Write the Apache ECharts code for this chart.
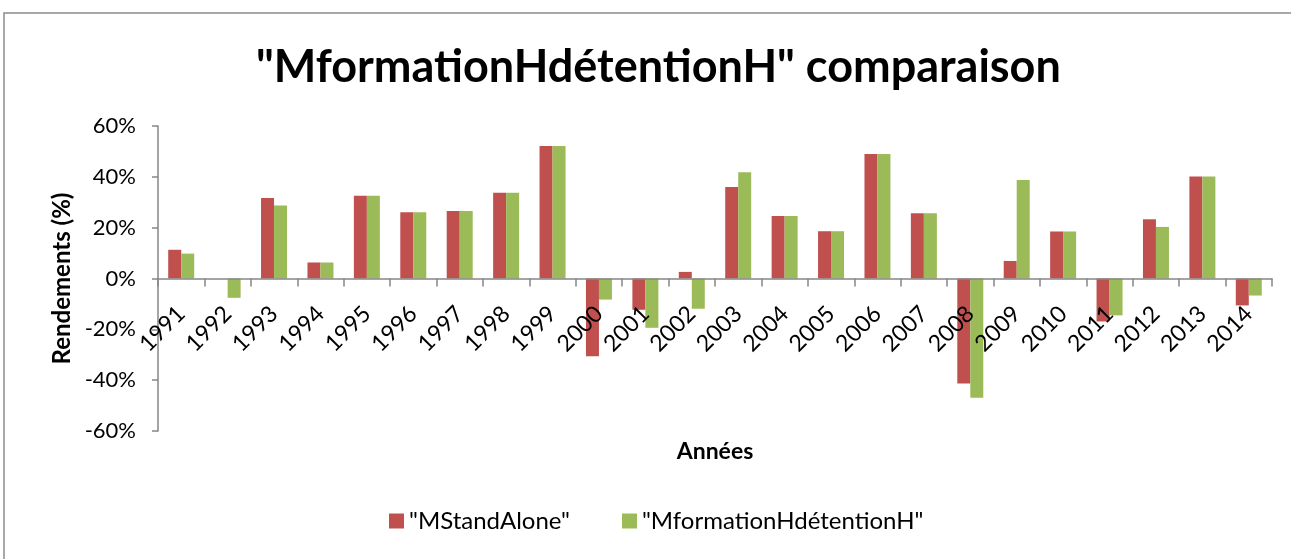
<!DOCTYPE html>
<html>
<head>
<meta charset="utf-8">
<script src="https://cdn.jsdelivr.net/npm/echarts@6/dist/echarts.min.js"></script>
<style>
  html, body { margin: 0; padding: 0; background: #fff; }
  #chart { width: 1291px; height: 559px; }
</style>
</head>
<body>
<div id="chart"></div>
<script>
const years = ['1991','1992','1993','1994','1995','1996','1997','1998','1999','2000','2001','2002',
  '2003','2004','2005','2006','2007','2008','2009','2010','2011','2012','2013','2014'];
const standAlone = [11.3, 0, 31.7, 6.3, 32.6, 26.1, 26.6, 33.7, 52.1, -30.6, -12.3, 2.6,
  36.0, 24.6, 18.6, 49.0, 25.7, -41.3, 6.9, 18.5, -16.9, 23.3, 40.1, -10.6];
const formation = [9.8, -7.6, 28.7, 6.3, 32.6, 26.1, 26.6, 33.7, 52.1, -8.3, -19.4, -11.9,
  41.8, 24.6, 18.6, 49.0, 25.7, -46.9, 38.8, 18.5, -14.5, 20.3, 40.1, -6.7];
const seriesNames = ['"MStandAlone"', '"MformationHdétentionH"'];

const font = 'Lato, "Open Sans", sans-serif';
const axisColor = '#868686';

const chart = echarts.init(document.getElementById('chart'));
chart.setOption({
  animation: false,
  textStyle: { fontFamily: font, color: '#000' },
  graphic: [{
    type: 'rect',
    shape: { x: 4, y: 13, width: 1300, height: 560 },
    style: { fill: 'none', stroke: '#8c8c8c', lineWidth: 1.5 }
  }],
  title: {
    text: '"MformationHdétentionH" comparaison',
    left: 251,
    top: 40,
    textStyle: { fontFamily: font, fontSize: 45, fontWeight: 'bold', color: '#000' }
  },
  legend: {
    bottom: 21,
    left: 384,
    itemWidth: 15,
    itemHeight: 15,
    itemGap: 52,
    icon: 'rect',
    textStyle: { fontFamily: font, fontSize: 24, color: '#000' },
    data: seriesNames
  },
  grid: { left: 158, right: 19, top: 126, bottom: 128, containLabel: false, outerBoundsMode: 'none' },
  xAxis: {
    type: 'category',
    z: 5,
    data: years,
    name: 'Années',
    nameLocation: 'middle',
    nameGap: 9,
    nameTextStyle: { fontFamily: font, fontSize: 23, fontWeight: 'bold', color: '#000' },
    axisLine: { onZero: true, lineStyle: { color: axisColor, width: 1.5 } },
    axisTick: { show: true, length: 8, lineStyle: { color: axisColor, width: 1.5 } },
    axisLabel: { rotate: 45, fontSize: 23, color: '#000', margin: -121, interval: 0 }
  },
  yAxis: {
    type: 'value',
    min: -60,
    max: 60,
    interval: 20,
    name: 'Rendements (%)',
    nameLocation: 'middle',
    nameGap: 84,
    nameTextStyle: { fontFamily: font, fontSize: 24, fontWeight: 'bold', color: '#000' },
    splitLine: { show: false },
    axisLine: { show: true, lineStyle: { color: axisColor, width: 1.5 } },
    axisTick: { show: true, length: 6, lineStyle: { color: axisColor, width: 1.5 } },
    axisLabel: { fontSize: 22, color: '#000', margin: 22, formatter: '{value}%' }
  },
  series: [
    {
      name: seriesNames[0],
      type: 'bar',
      data: standAlone,
      barGap: '0%',
      barCategoryGap: '44%',
      itemStyle: { color: '#C0504D' }
    },
    {
      name: seriesNames[1],
      type: 'bar',
      data: formation,
      itemStyle: { color: '#9BBB59' }
    }
  ]
});
</script>
</body>
</html>
